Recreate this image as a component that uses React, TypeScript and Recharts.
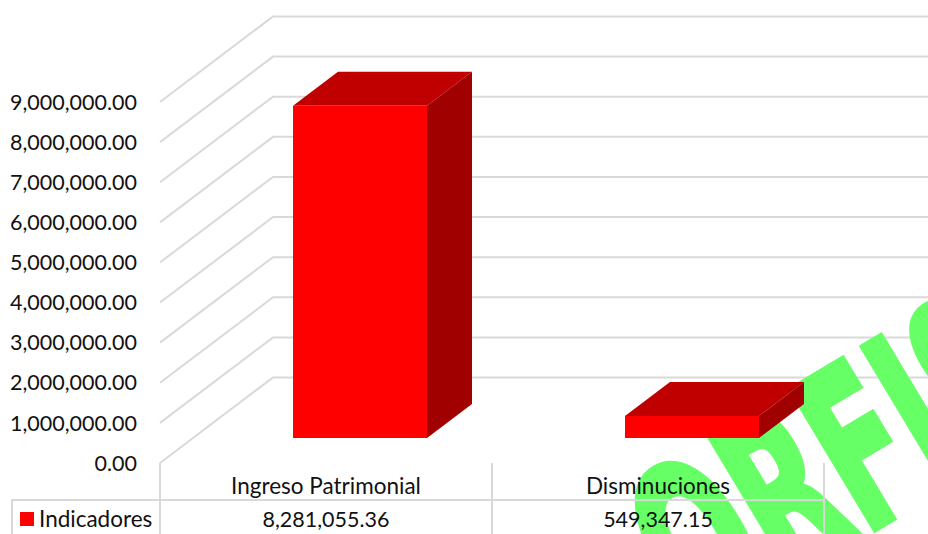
import { Bar, BarChart, CartesianGrid, XAxis, YAxis } from 'recharts'

const categories = ['Ingreso Patrimonial', 'Disminuciones']
const indicadores = [8281055.36, 549347.15]
const yTicks = [0, 1000000, 2000000, 3000000, 4000000, 5000000, 6000000, 7000000, 8000000, 9000000]
const seriesName = 'Indicadores'
const watermark = 'ORFIS'

const chartData = categories.map((name, i) => ({ name, value: indicadores[i] }))

const FONT = 'Lato, sans-serif'
const NUM_SIZE = 21.5
const LABEL_SIZE = 22.5
const GRID = '#d9d9d9'
const WALL_DX = 113
const WALL_DY = 85.5
const BAR_SHIFT_X = 34
const BAR_SHIFT_Y = 25
const DEPTH_X = 45
const DEPTH_Y = 34
const BAND = 332

function fmt(v: number) {
  return v.toLocaleString('en-US', { minimumFractionDigits: 2, maximumFractionDigits: 2 })
}

function WallLine(props: any) {
  const { x1, x2, y1 } = props
  return (
    <path
      key={`wall-${y1}`}
      d={`M${x1},${y1} L${x1 + WALL_DX},${y1 - WALL_DY} L${x2 + WALL_DX},${y1 - WALL_DY}`}
      fill="none"
      stroke={GRID}
      strokeWidth={2}
    />
  )
}

function Bar3D(props: any) {
  const { x, y, width, height } = props
  const l = x + BAR_SHIFT_X
  const r = l + width
  const t = y - BAR_SHIFT_Y
  const b = t + height
  return (
    <g>
      <polygon
        points={`${l},${t} ${l + DEPTH_X},${t - DEPTH_Y} ${r + DEPTH_X},${t - DEPTH_Y} ${r},${t}`}
        fill="#c00000"
      />
      <polygon
        points={`${r},${t} ${r + DEPTH_X},${t - DEPTH_Y} ${r + DEPTH_X},${b - DEPTH_Y} ${r},${b}`}
        fill="#a00000"
      />
      <rect x={l} y={t} width={width} height={height} fill="#ff0000" />
    </g>
  )
}

function TableTick(props: any) {
  const { x, y, payload } = props
  const i = categories.indexOf(payload.value)
  return (
    <g>
      <line x1={x - BAND / 2} x2={x - BAND / 2} y1={y} y2={y + 71} stroke={GRID} strokeWidth={2} />
      <line x1={x + BAND / 2} x2={x + BAND / 2} y1={y} y2={y + 71} stroke={GRID} strokeWidth={2} />
      <line x1={x - BAND / 2} x2={x + BAND / 2} y1={y + 37} y2={y + 37} stroke={GRID} strokeWidth={2} />
      <text x={x} y={y + 31} textAnchor="middle" fontFamily={FONT} fontSize={LABEL_SIZE} fill="#111">
        {payload.value}
      </text>
      <text x={x} y={y + 64} textAnchor="middle" fontFamily={FONT} fontSize={NUM_SIZE} fill="#111">
        {fmt(indicadores[i])}
      </text>
    </g>
  )
}

export default function App() {
  return (
    <div style={{ position: 'absolute', left: 0, top: 0, width: 928, height: 534, overflow: 'hidden', background: '#fff' }}>
      <BarChart
        width={938}
        height={534}
        data={chartData}
        margin={{ top: 102, right: 114, bottom: 0, left: 0 }}
        barSize={134}
      >
        <text
          transform="translate(695 637) rotate(-31) scale(0.55 1)"
          fontFamily="'DejaVu Sans', sans-serif"
          fontWeight={700}
          fontSize={222}
          fill="#66ff66"
          stroke="#66ff66"
          strokeWidth={7}
        >
          {watermark}
        </text>
        <CartesianGrid horizontal={WallLine} vertical={false} />
        <XAxis
          dataKey="name"
          height={71}
          interval={0}
          axisLine={false}
          tickLine={false}
          tickSize={0}
          tickMargin={0}
          tick={TableTick}
        />
        <YAxis
          width={160}
          domain={[0, 9000000]}
          ticks={yTicks}
          interval={0}
          axisLine={false}
          tickLine={false}
          tickSize={0}
          tickMargin={23}
          tickFormatter={fmt}
          tick={{ fontFamily: FONT, fontSize: NUM_SIZE, fill: '#111' }}
        />
        <Bar dataKey="value" name={seriesName} shape={Bar3D} isAnimationActive={false} />
        <path d="M12,534 L12,500 L160,500" fill="none" stroke={GRID} strokeWidth={2} />
        <rect x={20} y={512} width={14} height={14} fill="#ff0000" />
        <text x={39} y={527} fontFamily={FONT} fontSize={LABEL_SIZE} fill="#111">
          {seriesName}
        </text>
      </BarChart>
    </div>
  )
}
